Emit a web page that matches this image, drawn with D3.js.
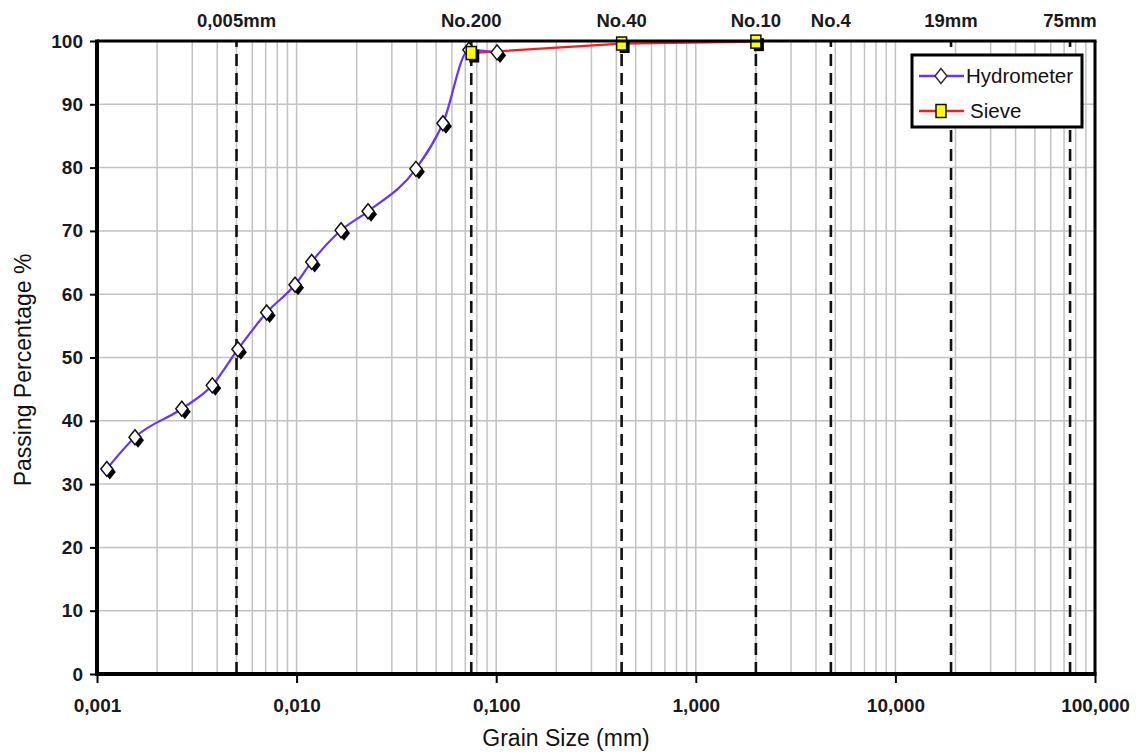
<!DOCTYPE html>
<html>
<head>
<meta charset="utf-8">
<script src="https://cdn.jsdelivr.net/npm/d3@7"></script>
<style>
  html, body { margin: 0; padding: 0; background: #fff; }
  svg { display: block; }
  text { font-family: "Liberation Sans", Arial, sans-serif; }
</style>
</head>
<body>
<svg id="chart" width="1136" height="754"></svg>
<script>
// Hydrometer readings: grain diameter (mm) and percent passing
const hydroSize = [0.00112, 0.00155, 0.00266, 0.00378, 0.00508, 0.00708, 0.00982, 0.0119, 0.0167, 0.0228, 0.0396, 0.0541, 0.073, 0.101];
const hydroPass = [32.4, 37.4, 41.9, 45.6, 51.3, 57.1, 61.5, 65.1, 70.1, 73.1, 79.8, 87.0, 98.6, 98.2];

// Sieve analysis: opening (mm) and percent passing
const sieveSize = [0.075, 0.425, 2.0];
const sievePass = [98.1, 99.6, 99.9];

// Reference sizes marked with dashed verticals
const refSize  = [0.005, 0.075, 0.425, 2.0, 4.75, 19, 75];
const refLabel = ["0,005mm", "No.200", "No.40", "No.10", "No.4", "19mm", "75mm"];

// Axis ticks
const xTickValues = [0.001, 0.01, 0.1, 1, 10, 100];
const xTickLabels = ["0,001", "0,010", "0,100", "1,000", "10,000", "100,000"];
const yTickValues = [0, 10, 20, 30, 40, 50, 60, 70, 80, 90, 100];

const seriesNames = ["Hydrometer", "Sieve"];

const svg = d3.select("#chart");
const plotLeft = 97, plotRight = 1095, plotTop = 41, plotBottom = 674;

const x = d3.scaleLog().domain([0.001, 100]).range([plotLeft, plotRight]);
const y = d3.scaleLinear().domain([0, 100]).range([plotBottom, plotTop]);

// Grid
const grid = svg.append("g");
grid.selectAll("line.v").data(x.ticks().filter(v => v > 0.001 && v < 100))
  .join("line")
  .attr("x1", d => x(d)).attr("x2", d => x(d))
  .attr("y1", plotTop).attr("y2", plotBottom)
  .attr("stroke", "#c2c2c2").attr("stroke-width", 1.5);
grid.selectAll("line.h").data(yTickValues.filter(v => v > 0 && v < 100))
  .join("line")
  .attr("x1", plotLeft).attr("x2", plotRight)
  .attr("y1", d => y(d)).attr("y2", d => y(d))
  .attr("stroke", "#c2c2c2").attr("stroke-width", 1.5);

// Dashed reference lines and their labels
svg.append("g").selectAll("line").data(refSize).join("line")
  .attr("x1", d => x(d)).attr("x2", d => x(d))
  .attr("y1", plotBottom).attr("y2", plotTop)
  .attr("stroke", "#111").attr("stroke-width", 2.6)
  .attr("stroke-dasharray", "12,7");
svg.append("g").selectAll("text").data(refSize).join("text")
  .attr("x", d => x(d)).attr("y", 27)
  .attr("text-anchor", "middle")
  .attr("font-size", 18.5).attr("font-weight", "bold").attr("fill", "#1a1a1a")
  .text((d, i) => refLabel[i]);

// Series lines
const hydro = hydroSize.map((s, i) => [s, hydroPass[i]]);
const sieve = sieveSize.map((s, i) => [s, sievePass[i]]);

const smooth = d3.line().x(d => x(d[0])).y(d => y(d[1])).curve(d3.curveMonotoneX);
const straight = d3.line().x(d => x(d[0])).y(d => y(d[1]));

svg.append("path").datum(hydro).attr("d", smooth)
  .attr("fill", "none").attr("stroke", "#6633ff").attr("stroke-width", 2.2);
svg.append("path").datum(sieve).attr("d", straight)
  .attr("fill", "none").attr("stroke", "#ff1a1a").attr("stroke-width", 2.2);

// Markers
const diamond = (cx, cy) => `M${cx},${cy - 7.5}L${cx + 6},${cy}L${cx},${cy + 7.5}L${cx - 6},${cy}Z`;

const hm = svg.append("g");
hm.selectAll("path.shadow").data(hydro).join("path")
  .attr("d", d => diamond(x(d[0]) + 3, y(d[1]) + 3))
  .attr("fill", "#000");
hm.selectAll("path.mark").data(hydro).join("path")
  .attr("d", d => diamond(x(d[0]), y(d[1])))
  .attr("fill", "#fff").attr("stroke", "#111").attr("stroke-width", 1.5);

const sm = svg.append("g");
sm.selectAll("rect.shadow").data(sieve).join("rect")
  .attr("x", d => x(d[0]) - 5 + 3).attr("y", d => y(d[1]) - 6.5 + 3)
  .attr("width", 10).attr("height", 13).attr("fill", "#000");
sm.selectAll("rect.mark").data(sieve).join("rect")
  .attr("x", d => x(d[0]) - 5).attr("y", d => y(d[1]) - 6.5)
  .attr("width", 10).attr("height", 13)
  .attr("fill", "#ffff00").attr("stroke", "#111").attr("stroke-width", 1.5);

// Frame: top and right borders
svg.append("line").attr("x1", plotLeft).attr("x2", plotRight + 1.5).attr("y1", plotTop).attr("y2", plotTop)
  .attr("stroke", "#000").attr("stroke-width", 3);
svg.append("line").attr("x1", plotRight).attr("x2", plotRight).attr("y1", plotTop).attr("y2", plotBottom)
  .attr("stroke", "#000").attr("stroke-width", 3);

// Y axis
const yAxis = svg.append("g").attr("transform", `translate(${plotLeft},0)`)
  .call(d3.axisLeft(y).tickValues(yTickValues).tickSize(7).tickPadding(7).tickFormat(d3.format("d")));
yAxis.select(".domain").remove();
yAxis.selectAll(".tick line").attr("stroke", "#000").attr("stroke-width", 2);
yAxis.selectAll(".tick text")
  .attr("font-family", "Liberation Sans, Arial, sans-serif")
  .attr("font-size", 19).attr("font-weight", "bold").attr("fill", "#1a1a1a");

// X axis
const xAxis = svg.append("g").attr("transform", `translate(0,${plotBottom})`)
  .call(d3.axisBottom(x).tickValues(xTickValues).tickSize(9).tickPadding(16)
    .tickFormat((d, i) => xTickLabels[i]));
xAxis.select(".domain").remove();
xAxis.selectAll(".tick line").attr("stroke", "#000").attr("stroke-width", 2);
xAxis.selectAll(".tick text")
  .attr("font-family", "Liberation Sans, Arial, sans-serif")
  .attr("font-size", 19).attr("font-weight", "bold").attr("fill", "#1a1a1a");

// Heavy axis lines
svg.append("line").attr("x1", plotLeft).attr("x2", plotLeft).attr("y1", plotTop - 1.5).attr("y2", plotBottom + 2)
  .attr("stroke", "#000").attr("stroke-width", 4);
svg.append("line").attr("x1", plotLeft - 2).attr("x2", plotRight + 1.5).attr("y1", plotBottom).attr("y2", plotBottom)
  .attr("stroke", "#000").attr("stroke-width", 4);

// Axis titles
svg.append("text")
  .attr("transform", "translate(31,370) rotate(-90)")
  .attr("text-anchor", "middle").attr("font-size", 23).attr("fill", "#111")
  .text("Passing Percentage %");
svg.append("text")
  .attr("x", 566).attr("y", 746)
  .attr("text-anchor", "middle").attr("font-size", 23).attr("fill", "#111")
  .text("Grain Size (mm)");

// Legend
const lg = svg.append("g");
lg.append("rect").attr("x", 912).attr("y", 55).attr("width", 170).attr("height", 72)
  .attr("fill", "#fff").attr("stroke", "#000").attr("stroke-width", 3);
const legendY = [76, 111];
const legendColor = ["#6633ff", "#ff1a1a"];
lg.selectAll("line").data(seriesNames).join("line")
  .attr("x1", 919).attr("x2", 964)
  .attr("y1", (d, i) => legendY[i]).attr("y2", (d, i) => legendY[i])
  .attr("stroke", (d, i) => legendColor[i]).attr("stroke-width", 2.5);
lg.append("path").attr("d", diamond(941, legendY[0]))
  .attr("fill", "#fff").attr("stroke", "#333").attr("stroke-width", 1.5);
lg.append("rect").attr("x", 936).attr("y", legendY[1] - 6.5).attr("width", 10).attr("height", 13)
  .attr("fill", "#ffff00").attr("stroke", "#111").attr("stroke-width", 1.5);
lg.selectAll("text").data(seriesNames).join("text")
  .attr("x", (d, i) => i === 0 ? 966 : 970)
  .attr("y", (d, i) => legendY[i] + 7)
  .attr("font-size", 20.5).attr("fill", "#111")
  .text(d => d);
</script>
</body>
</html>
